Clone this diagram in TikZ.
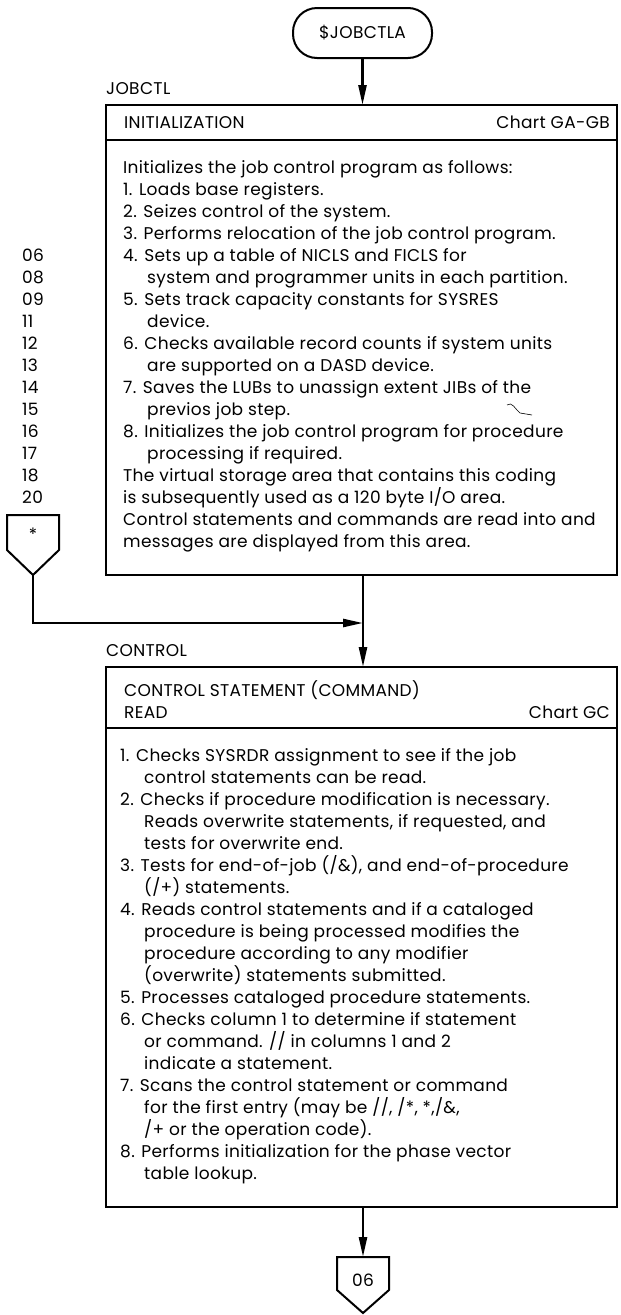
\documentclass[tikz,border=0pt]{standalone}
\usepackage{fontspec}
\setmainfont{Poppins}[LetterSpace=2]
\usetikzlibrary{arrows.meta}
\newcommand\dfont{\fontsize{17}{22}\selectfont}
\tikzset{
  txt/.style={anchor=base west, inner sep=0pt, font=\dfont},
  rtxt/.style={anchor=base east, inner sep=0pt, font=\dfont},
  ctxt/.style={anchor=center, inner sep=0pt, font=\dfont},
  boxstyle/.style={draw, line width=2.2pt, rectangle, inner sep=0pt},
  conn/.style={line width=2.5pt, -{Triangle[length=20pt,width=8pt]}},
  divider/.style={line width=1.4pt},
  offpage/.style={line width=2pt, line join=miter},
}
\begin{document}
\begin{tikzpicture}[x=1pt,y=-1pt]
\useasboundingbox (0,0) rectangle (621,1315);
% terminator
\node[draw, line width=2pt, rounded corners=24pt, minimum width=139pt, minimum height=50pt, inner sep=0pt, font=\dfont] (term) at (362.5,33) {\$JOBCTLA};
% box 1
\node[txt] (lbl1) at (106,94) {JOBCTL};
\node[boxstyle, minimum width=511pt, minimum height=470pt] (box1) at (361.5,340) {};
\draw[divider] (box1.west |- 0,140) coordinate (d1l) -- (box1.east |- 0,140) coordinate (d1r);
\node[txt] (h1) at (124,128) {INITIALIZATION};
\node[rtxt] (c1) at (610,128) {Chart GA-GB};
\def\bx{123}
\def\ind{147}
\node[txt] (a0) at (\bx,173) {Initializes the job control program as follows:};
\node[txt] (a1) at (\bx,195) {1. Loads base registers.};
\node[txt] (a2) at (\bx,217) {2. Seizes control of the system.};
\node[txt] (a3) at (\bx,239) {3. Performs relocation of the job control program.};
\node[txt] (a4) at (\bx,261) {4. Sets up a table of NICLS and FICLS for};
\node[txt] (a5) at (\ind,283) {system and programmer units in each partition.};
\node[txt] (a6) at (\bx,305) {5. Sets track capacity constants for SYSRES};
\node[txt] (a7) at (\ind,327) {device.};
\node[txt] (a8) at (\bx,349) {6. Checks available record counts if system units};
\node[txt] (a9) at (\ind,371) {are supported on a DASD device.};
\node[txt] (a10) at (\bx,393) {7. Saves the LUBs to unassign extent JIBs of the};
\node[txt] (a11) at (\ind,415) {previos job step.};
\node[txt] (a12) at (\bx,437) {8. Initializes the job control program for procedure};
\node[txt] (a13) at (\ind,459) {processing if required.};
\node[txt] (a14) at (\bx,481) {The virtual storage area that contains this coding};
\node[txt] (a15) at (\bx,503) {is subsequently used as a 120 byte I/O area.};
\node[txt] (a16) at (\bx,525) {Control statements and commands are read into and};
\node[txt] (a17) at (\bx,547) {messages are displayed from this area.};
\draw[line width=0.6pt] (507,405) .. controls (512,401) and (515,409) .. (520,413) -- (532,415);
% left labels
\node[txt] (n06) at (22,261) {06};
\node[txt] (n08) at (22,283) {08};
\node[txt] (n09) at (22,305) {09};
\node[txt] (n11) at (22,327) {11};
\node[txt] (n12) at (22,349) {12};
\node[txt] (n13) at (22,371) {13};
\node[txt] (n14) at (22,393) {14};
\node[txt] (n15) at (22,415) {15};
\node[txt] (n16) at (22,437) {16};
\node[txt] (n17) at (22,459) {17};
\node[txt] (n18) at (22,481) {18};
\node[txt] (n20) at (22,503) {20};
% off-page connector *
\draw[offpage] (7,515) -- (59,515) -- (59,550) -- (33,575) -- (7,550) -- cycle;
\node[ctxt] (star) at (33,534) {*};
\coordinate (starbot) at (33,575);
% box 2
\node[txt] (lbl2) at (106,656) {CONTROL};
\node[boxstyle, minimum width=511pt, minimum height=540pt] (box2) at (361.5,937) {};
\draw[divider] (box2.west |- 0,728) -- (box2.east |- 0,728);
\node[txt] (h2a) at (124,696) {CONTROL STATEMENT (COMMAND)};
\node[txt] (h2b) at (124,718) {READ};
\node[rtxt] (c2) at (610,718) {Chart GC};
\def\cx{120}
\def\cind{144}
\node[txt] (b0) at (\cx,761) {1. Checks SYSRDR assignment to see if the job};
\node[txt] (b1) at (\cind,783) {control statements can be read.};
\node[txt] (b2) at (\cx,805) {2. Checks if procedure modification is necessary.};
\node[txt] (b3) at (\cind,827) {Reads overwrite statements, if requested, and};
\node[txt] (b4) at (\cind,849) {tests for overwrite end.};
\node[txt] (b5) at (\cx,871) {3. Tests for end-of-job (/\&), and end-of-procedure};
\node[txt] (b6) at (\cind,893) {(/+) statements.};
\node[txt] (b7) at (\cx,915) {4. Reads control statements and if a cataloged};
\node[txt] (b8) at (\cind,937) {procedure is being processed modifies the};
\node[txt] (b9) at (\cind,959) {procedure according to any modifier};
\node[txt] (b10) at (\cind,981) {(overwrite) statements submitted.};
\node[txt] (b11) at (\cx,1003) {5. Processes cataloged procedure statements.};
\node[txt] (b12) at (\cx,1025) {6. Checks column 1 to determine if statement};
\node[txt] (b13) at (\cind,1047) {or command. // in columns 1 and 2};
\node[txt] (b14) at (\cind,1069) {indicate a statement.};
\node[txt] (b15) at (\cx,1091) {7. Scans the control statement or command};
\node[txt] (b16) at (\cind,1113) {for the first entry (may be //, /*, *,/\&,};
\node[txt] (b17) at (\cind,1135) {/+ or the operation code).};
\node[txt] (b18) at (\cx,1157) {8. Performs initialization for the phase vector};
\node[txt] (b19) at (\cind,1179) {table lookup.};
% off-page connector 06
\draw[offpage] (337,1257) -- (389,1257) -- (389,1290) -- (363,1313) -- (337,1290) -- cycle;
\node[ctxt] (p06) at (363,1280) {06};
\coordinate (p06top) at (363,1257);
% connectors
\coordinate (t1) at (362.5,105);
\draw[conn] (term.south) -- (t1);
\coordinate (b1bot) at (363,575);
\coordinate (b2top) at (363,667);
\coordinate (join) at (363,623);
\draw[conn] (b1bot) -- (b2top);
\draw[conn] (starbot) |- (join);
\coordinate (b2bot) at (363,1207);
\draw[conn] (b2bot) -- (p06top);
\end{tikzpicture}
\end{document}
